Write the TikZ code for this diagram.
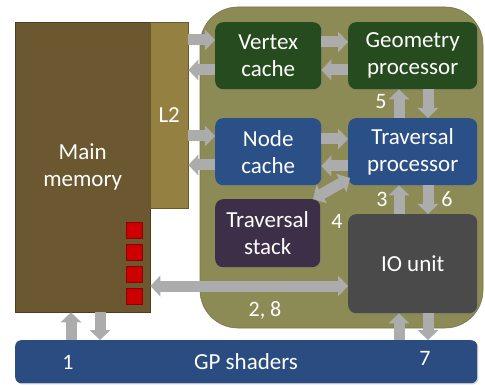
\documentclass[tikz,border=0pt]{standalone}
\usepackage{fontspec}
\setmainfont{Carlito}
\usetikzlibrary{arrows.meta,shadows,calc}
\definecolor{olive}{RGB}{140,138,85}
\definecolor{memc}{RGB}{107,87,48}
\definecolor{l2c}{RGB}{148,128,64}
\definecolor{greenc}{RGB}{38,75,30}
\definecolor{bluec}{RGB}{43,79,135}
\definecolor{purplec}{RGB}{62,47,72}
\definecolor{ioc}{RGB}{74,74,74}
\definecolor{gpc}{RGB}{42,76,128}
\definecolor{redc}{RGB}{204,0,0}
\definecolor{arrc}{RGB}{172,172,172}
\tikzset{
  txt/.style={text=white,font=\fontsize{23}{27}\selectfont,align=center},
  unit/.style={txt,rounded corners=8pt,inner sep=0pt,drop shadow={opacity=0.35,shadow xshift=1.2pt,shadow yshift=-1.2pt}},
  arr/.style={draw=arrc,line width=11pt,-{Triangle[width=21pt,length=10pt,line width=0pt]}},
  darr/.style={draw=arrc,line width=11pt,{Triangle[width=21pt,length=10pt,line width=0pt]}-{Triangle[width=21pt,length=10pt,line width=0pt]}},
  lbl/.style={text=white,font=\fontsize{22}{26}\selectfont,inner sep=0pt},
  redsq/.style={fill=redc,draw=redc!70!black,line width=0.4pt,minimum size=16pt,inner sep=0pt}
}
\begin{document}
\begin{tikzpicture}[x=1pt,y=-1pt]
\useasboundingbox (0,0) rectangle (485,385);
% olive region
\fill[olive,draw=olive!85!black,line width=0.6pt] (200,7) [rounded corners=38pt] rectangle (483,328);
% main memory and L2
\node[draw=memc!70!black,fill=memc,txt,minimum width=135pt,minimum height=290pt,inner sep=0pt,anchor=north west] (mem) at (15,22) {Main\\memory};
\node[draw=l2c!70!black,fill=l2c,txt,minimum width=38pt,minimum height=186pt,inner sep=0pt,anchor=north west] (l2) at (150,22) {L2};
% red squares
\node[redsq] (r1) at (134,230) {};
\node[redsq] (r2) at (134,252) {};
\node[redsq] (r3) at (134,274) {};
\node[redsq] (r4) at (134,296) {};
% units
\node[unit,fill=greenc,minimum width=106pt,minimum height=67pt,anchor=north west] (vc) at (215,22) {Vertex\\cache};
\node[unit,fill=greenc,minimum width=129pt,minimum height=67pt,anchor=north west] (gp) at (348,22) {Geometry\\processor};
\node[unit,fill=bluec,minimum width=106pt,minimum height=67pt,anchor=north west] (nc) at (215,118) {Node\\cache};
\node[unit,fill=bluec,minimum width=129pt,minimum height=67pt,anchor=north west] (tp) at (348,118) {Traversal\\processor};
\node[unit,fill=purplec,minimum width=105pt,minimum height=68pt,anchor=north west] (ts) at (215,199) {Traversal\\stack};
\node[unit,fill=ioc,minimum width=129pt,minimum height=99pt,anchor=north west] (io) at (348,214) {IO unit};
\node[unit,fill=gpc,rounded corners=6pt,minimum width=462pt,minimum height=43pt,anchor=north west] (sh) at (15,340) {};
\node[txt] (shl) at (246,362) {GP shaders};
% arrows L2 <-> caches
\draw[arr] (l2.east |- 0,40) -- (vc.west |- 0,40);
\draw[arr] (vc.west |- 0,70) -- (l2.east |- 0,70);
\draw[arr] (l2.east |- 0,136) -- (nc.west |- 0,136);
\draw[arr] (nc.west |- 0,165) -- (l2.east |- 0,165);
% caches <-> processors
\draw[arr] (vc.east |- 0,42) -- (gp.west |- 0,42);
\draw[arr] (gp.west |- 0,70) -- (vc.east |- 0,70);
\draw[arr] (nc.east |- 0,139) -- (tp.west |- 0,139);
\draw[arr] (tp.west |- 0,166) -- (nc.east |- 0,166);
% vertical
\draw[arr] (tp.north -| 399,0) -- (gp.south -| 399,0);
\draw[arr] (gp.south -| 428,0) -- (tp.north -| 428,0);
\draw[arr] (io.north -| 399,0) -- (tp.south -| 399,0);
\draw[arr] (tp.south -| 428,0) -- (io.north -| 428,0);
\draw[arr] (sh.north -| 399,0) -- (io.south -| 399,0);
\draw[arr] (io.south -| 428,0) -- (sh.north -| 428,0);
\draw[arr] (sh.north -| 71,0) -- (mem.south -| 71,0);
\draw[arr] (mem.south -| 100,0) -- (sh.north -| 100,0);
% stack <-> traversal
\coordinate (tsa) at (313,199);
\coordinate (tpa) at (350,178);
\draw[darr] (tsa) -- (tpa);
% IO <-> memory
\draw[darr] (mem.east |- 0,286) -- (io.west |- 0,286);
% labels
\node[lbl] (l5) at (381,102) {5};
\node[lbl] (l3) at (382,199) {3};
\node[lbl] (l6) at (447,199) {6};
\node[lbl] (l4) at (337,221) {4};
\node[lbl] (l28) at (265,310) {2, 8};
\node[lbl] (l1) at (68,362) {1};
\node[lbl] (l7) at (425,358) {7};
\end{tikzpicture}
\end{document}
